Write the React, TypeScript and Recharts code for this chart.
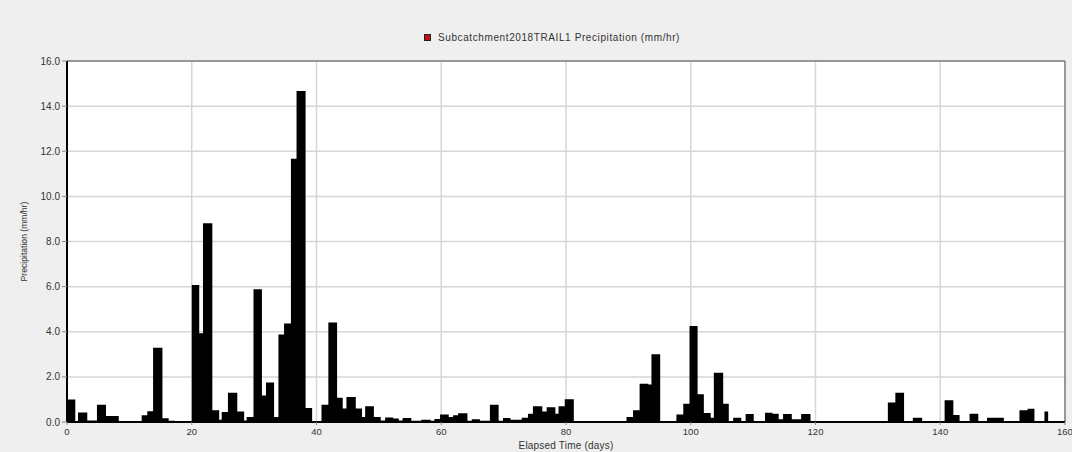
import React from "react";
import {
  ComposedChart,
  Area,
  XAxis,
  YAxis,
  CartesianGrid,
  Legend,
  ReferenceLine,
  Label,
} from "recharts";

// Start time (days) of each constant-rainfall interval
const times: number[] = [
  0, 1.33, 1.76, 3.25, 4.8, 6.25, 8.3, 11.97, 12.87, 13.8, 15.3, 16.3, 17.3,
  20.0, 21.2, 21.8, 23.3, 24.4, 24.8, 25.8, 27.3, 28.4, 28.8, 29.9, 31.25, 31.9,
  33.2, 33.9, 34.8, 35.9, 36.8, 38.25, 39.3, 40.8, 41.9, 43.3, 44.2, 44.8, 46.3,
  47.3, 47.8, 49.2, 50.3, 51.0, 52.3, 53.2, 53.8, 55.2, 56.8, 58.3, 58.9, 59.8,
  61.2, 61.9, 62.7, 64.2, 64.9, 66.2, 67.8, 69.2, 69.9, 71.1, 72.9, 73.9, 74.7,
  76.2, 76.9, 78.3, 78.8, 79.8, 81.25, 89.7, 90.75, 91.8, 93.2, 93.7, 95.1, 97.7,
  98.8, 99.8, 101.1, 102.1, 103.2, 103.7, 105.2, 106.1, 106.8, 108.1, 108.8,
  110.1, 111.9, 113.1, 114.1, 114.8, 116.2, 117.7, 119.2, 131.6, 132.8, 134.2,
  135.6, 137.1, 140.7, 142.1, 143.1, 144.7, 146.1, 147.5, 150.2, 152.7, 154.0,
  155.1, 156.7, 157.3, 160,
];

// Precipitation (mm/hr) during each interval
const precip: number[] = [
  1.0, 0, 0.42, 0.07, 0.77, 0.27, 0, 0.3, 0.48, 3.29, 0.17, 0.05, 0,
  6.07, 3.93, 8.81, 0.52, 0.1, 0.44, 1.3, 0.47, 0.07, 0.22, 5.88, 1.18, 1.75,
  0.22, 3.88, 4.37, 11.67, 14.67, 0.62, 0.03, 0.77, 4.41, 1.07, 0.6, 1.11, 0.6,
  0.22, 0.7, 0.22, 0.07, 0.2, 0.16, 0.07, 0.18, 0.06, 0.1, 0.06, 0.13, 0.33,
  0.22, 0.3, 0.39, 0.06, 0.12, 0.06, 0.77, 0.06, 0.18, 0.1, 0.19, 0.37, 0.7,
  0.47, 0.65, 0.37, 0.7, 1.01, 0, 0.22, 0.52, 1.7, 1.66, 3.0, 0, 0.33,
  0.81, 4.25, 1.23, 0.4, 0.19, 2.18, 0.81, 0, 0.19, 0, 0.36,
  0, 0.41, 0.37, 0.12, 0.36, 0.12, 0.36, 0, 0.86, 1.3, 0.03,
  0.19, 0, 0.96, 0.31, 0, 0.37, 0, 0.19, 0, 0.52, 0.59,
  0, 0.47, 0, 0,
];

const xTicks: number[] = [0, 20, 40, 60, 80, 100, 120, 140, 160];
const yTicks: number[] = [0, 2, 4, 6, 8, 10, 12, 14, 16];

const seriesName = "Subcatchment2018TRAIL1 Precipitation (mm/hr)";

const data = times.map((t, i) => ({ t, v: precip[i] }));

const FONT = "'Liberation Sans', Arial, sans-serif";

const LegendContent = () => (
  <div
    style={{
      display: "flex",
      alignItems: "center",
      fontFamily: FONT,
      fontSize: 10,
      letterSpacing: 0.6,
      color: "#333",
      whiteSpace: "nowrap",
      height: 12,
    }}
  >
    <span
      style={{
        display: "inline-block",
        width: 5,
        height: 5,
        background: "#c0141a",
        border: "1px solid #222",
        marginRight: 7,
      }}
    />
    <span>{seriesName}</span>
  </div>
);

export default function App() {
  return (
    <div
      style={{
        position: "absolute",
        left: 0,
        top: 0,
        width: 1072,
        height: 452,
        background: "#efefef",
        fontFamily: FONT,
      }}
    >
      <ComposedChart
        width={1072}
        height={452}
        data={data}
        margin={{ top: 61, right: 7, bottom: 0, left: 7 }}
      >
        <CartesianGrid
          fill="#ffffff"
          stroke="#d6d6d6"
          strokeWidth={1.5}
          horizontalValues={yTicks}
          verticalValues={xTicks}
        />
        <XAxis
          type="number"
          dataKey="t"
          domain={[0, 160]}
          ticks={xTicks}
          allowDataOverflow
          height={30}
          tickSize={3}
          tickMargin={3}
          axisLine={{ stroke: "#000", strokeWidth: 2 }}
          tickLine={{ stroke: "#888" }}
          tick={{ fontSize: 9.5, fill: "#333", fontFamily: FONT }}
        >
          <Label
            value="Elapsed Time (days)"
            position="insideBottom"
            offset={3}
            style={{ fontSize: 10, letterSpacing: 0.2, fill: "#333", fontFamily: FONT }}
          />
        </XAxis>
        <YAxis
          type="number"
          domain={[0, 16]}
          ticks={yTicks}
          allowDataOverflow
          width={60}
          tickSize={5}
          tickMargin={2}
          tickFormatter={(v: number) => v.toFixed(1)}
          axisLine={{ stroke: "#000", strokeWidth: 2 }}
          tickLine={{ stroke: "#888" }}
          tick={{ fontSize: 10, fill: "#333", fontFamily: FONT }}
        >
          <Label
            value="Precipitation (mm/hr)"
            angle={-90}
            position="insideLeft"
            offset={17}
            style={{ fontSize: 8.6, fill: "#333", fontFamily: FONT, textAnchor: "middle" }}
          />
        </YAxis>
        <ReferenceLine y={16} stroke="#808080" strokeWidth={1.5} />
        <ReferenceLine x={160} stroke="#808080" strokeWidth={1.5} />
        <Legend
          verticalAlign="middle"
          align="center"
          layout="horizontal"
          content={<LegendContent />}
          wrapperStyle={{ position: "absolute", left: 424, top: 31, width: "auto", height: 12 }}
        />
        <Area
          type="stepAfter"
          dataKey="v"
          name={seriesName}
          stroke="none"
          fill="#000000"
          fillOpacity={1}
          baseValue={0}
          isAnimationActive={false}
          dot={false}
          activeDot={false}
        />
      </ComposedChart>
    </div>
  );
}
